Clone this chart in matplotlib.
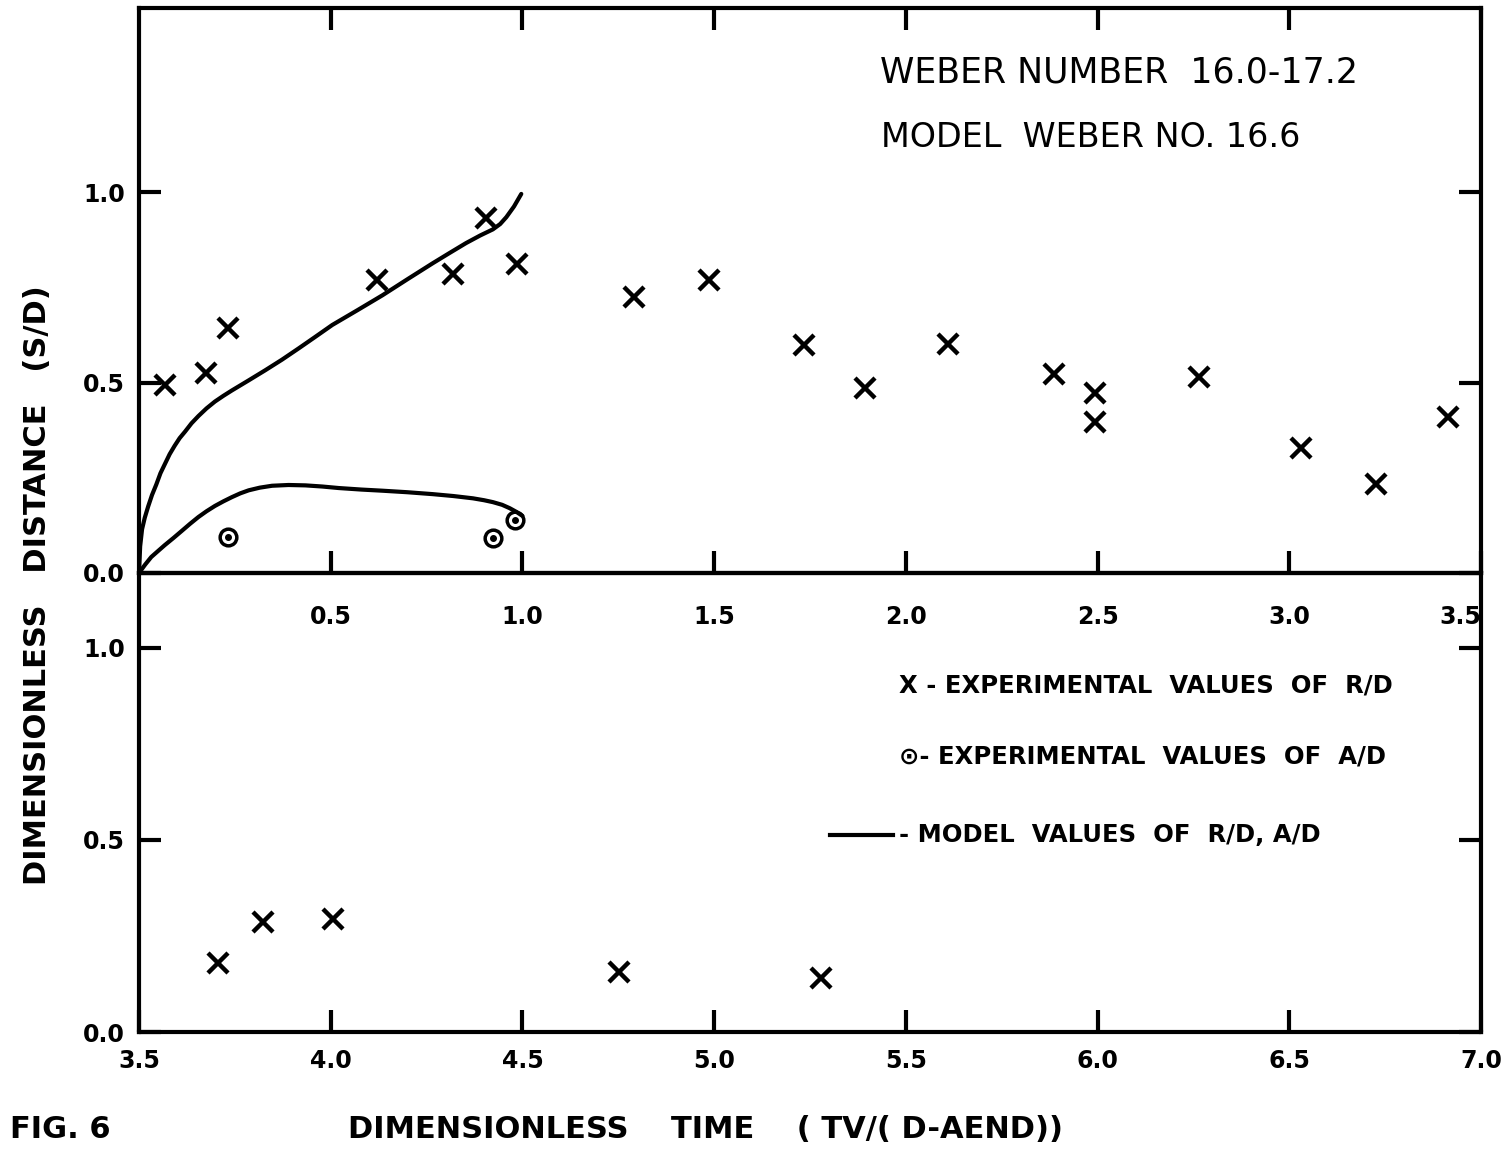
import matplotlib
matplotlib.use("Agg")
import matplotlib.pyplot as plt
from matplotlib.lines import Line2D

plt.rcParams['font.family'] = ['DejaVu Sans']

# ---------------- data ----------------
# top panel (time 0 - 3.5)
rd_top_t = [0.067, 0.174, 0.233, 0.622, 0.818, 0.904, 0.986, 1.290, 1.486, 1.734,
            1.893, 2.110, 2.386, 2.493, 2.493, 2.765, 3.031, 3.227, 3.415]
rd_top_v = [0.493, 0.525, 0.642, 0.768, 0.785, 0.931, 0.811, 0.724, 0.769, 0.598,
            0.486, 0.601, 0.522, 0.472, 0.396, 0.514, 0.328, 0.234, 0.409]
ad_t = [0.231, 0.923, 0.980]
ad_v = [0.094, 0.092, 0.139]

model_rd_t = [0.0, 0.003, 0.008, 0.015, 0.024, 0.034, 0.045, 0.056, 0.067, 0.080,
              0.093, 0.106, 0.120, 0.137, 0.155, 0.176, 0.198, 0.220, 0.242, 0.285,
              0.329, 0.373, 0.417, 0.460, 0.504, 0.570, 0.635, 0.700, 0.766, 0.810,
              0.853, 0.890, 0.923, 0.942, 0.958, 0.978, 0.997]
model_rd_v = [0.0, 0.070, 0.115, 0.145, 0.175, 0.205, 0.232, 0.262, 0.285, 0.312,
              0.334, 0.354, 0.371, 0.393, 0.412, 0.432, 0.450, 0.465, 0.479, 0.505,
              0.532, 0.560, 0.590, 0.620, 0.651, 0.690, 0.729, 0.771, 0.813, 0.840,
              0.866, 0.886, 0.902, 0.916, 0.934, 0.962, 0.995]
model_ad_t = [0.0, 0.016, 0.032, 0.050, 0.067, 0.090, 0.111, 0.133, 0.155, 0.176,
              0.198, 0.220, 0.242, 0.264, 0.286, 0.315, 0.347, 0.390, 0.434, 0.478,
              0.521, 0.580, 0.635, 0.700, 0.766, 0.820, 0.871, 0.900, 0.923, 0.947,
              0.967, 0.985, 1.0]
model_ad_v = [0.0, 0.022, 0.042, 0.058, 0.073, 0.092, 0.110, 0.129, 0.147, 0.162,
              0.176, 0.188, 0.199, 0.209, 0.217, 0.224, 0.229, 0.231, 0.230, 0.227,
              0.223, 0.219, 0.216, 0.212, 0.207, 0.202, 0.196, 0.191, 0.186, 0.179,
              0.170, 0.160, 0.150]

# bottom panel (time 3.5 - 7.0)
rd_bot_t = [3.706, 3.824, 4.007, 4.753, 5.278]
rd_bot_v = [0.180, 0.286, 0.294, 0.156, 0.141]

top_xticks = [0.5, 1.0, 1.5, 2.0, 2.5, 3.0, 3.5]
top_xlabels = ['0.5', '1.0', '1.5', '2.0', '2.5', '3.0', '3.5']
bot_xticks = [3.5, 4.0, 4.5, 5.0, 5.5, 6.0, 6.5, 7.0]
bot_xlabels = ['3.5', '4.0', '4.5', '5.0', '5.5', '6.0', '6.5', '7.0']
yticks = [0.0, 0.5, 1.0]
ylabels = ['0.0', '0.5', '1.0']

# ---------------- figure ----------------
W, H = 1501, 1150
fig = plt.figure(figsize=(W / 100, H / 100), dpi=100)

L = 139 / W
Wd = (1481 - 139) / W
ax1 = fig.add_axes([L, 1 - 573 / H, Wd, (573 - 8) / H])
ax2 = fig.add_axes([L, 1 - 1032 / H, Wd, (1032 - 573) / H])
ax2.set_facecolor('none')

tickfont = dict(family='DejaVu Sans', weight='bold', size=17)

for ax in (ax1, ax2):
    for s in ax.spines.values():
        s.set_linewidth(3)
    ax.tick_params(direction='in', length=16, width=3, top=True, right=True,
                   pad=10)
ax2.tick_params(axis='x', top=False)

# top panel
ax1.set_xlim(0, 3.5)
ax1.set_ylim(0, 1.483)
ax1.plot(model_rd_t, model_rd_v, color='black', lw=3, solid_capstyle='round',
         solid_joinstyle='round')
ax1.plot(model_ad_t, model_ad_v, color='black', lw=3, solid_capstyle='round',
         solid_joinstyle='round')
ax1.plot(rd_top_t, rd_top_v, linestyle='none', marker='x', color='black',
         markersize=14, markeredgewidth=3.2)
ax1.plot(ad_t, ad_v, linestyle='none', marker='o', markerfacecolor='none',
         markeredgecolor='black', markersize=12, markeredgewidth=2.5)
ax1.plot(ad_t, ad_v, linestyle='none', marker='o', color='black', markersize=4)
ax1.set_xticks(top_xticks)
ax1.set_xticklabels(top_xlabels, fontdict=tickfont)
ax1.get_xticklabels()[-1].set_horizontalalignment('right')
ax1.tick_params(axis='x', pad=23)
ax1.set_yticks(yticks)
ax1.set_yticklabels(ylabels, fontdict=tickfont)

ax1.text(0.552, 0.885, 'WEBER NUMBER  16.0-17.2', transform=ax1.transAxes,
         fontsize=25, ha='left', va='center')
ax1.text(0.553, 0.77, 'MODEL  WEBER NO. 16.6', transform=ax1.transAxes,
         fontsize=24, ha='left', va='center')

# bottom panel
ax2.set_xlim(3.5, 7.0)
ax2.set_ylim(0, 1.195)
ax2.plot(rd_bot_t, rd_bot_v, linestyle='none', marker='x', color='black',
         markersize=14, markeredgewidth=3.2)
ax2.set_xticks(bot_xticks)
ax2.set_xticklabels(bot_xlabels, fontdict=tickfont)
ax2.tick_params(axis='x', pad=12)
ax2.set_yticks(yticks)
ax2.set_yticklabels(ylabels, fontdict=tickfont)

legfont = dict(family='DejaVu Sans', weight='bold', size=17.5)
ax2.text(0.566, 0.754, 'X - EXPERIMENTAL  VALUES  OF  R/D', transform=ax2.transAxes,
         ha='left', va='center', **legfont)
ax2.text(0.566, 0.601, '\u2299- EXPERIMENTAL  VALUES  OF  A/D', transform=ax2.transAxes,
         ha='left', va='center', **legfont)
ax2.add_line(Line2D([0.515, 0.562], [0.429, 0.429], transform=ax2.transAxes,
                    color='black', lw=3))
ax2.text(0.566, 0.429, '- MODEL  VALUES  OF  R/D, A/D', transform=ax2.transAxes,
         ha='left', va='center', **legfont)

# labels
fig.text(38 / W, 1 - 585 / H, 'DIMENSIONLESS   DISTANCE   (S/D)', rotation=90,
         ha='center', va='center', fontsize=22, weight='bold')
fig.text(705 / W, 1 - 1130 / H, 'DIMENSIONLESS    TIME    ( TV/( D-AEND))',
         ha='center', va='center', fontsize=22, weight='bold')
fig.text(10 / W, 1 - 1130 / H, 'FIG. 6', ha='left', va='center', fontsize=22,
         weight='bold')

fig.savefig('out.png', dpi=100, facecolor='white')
